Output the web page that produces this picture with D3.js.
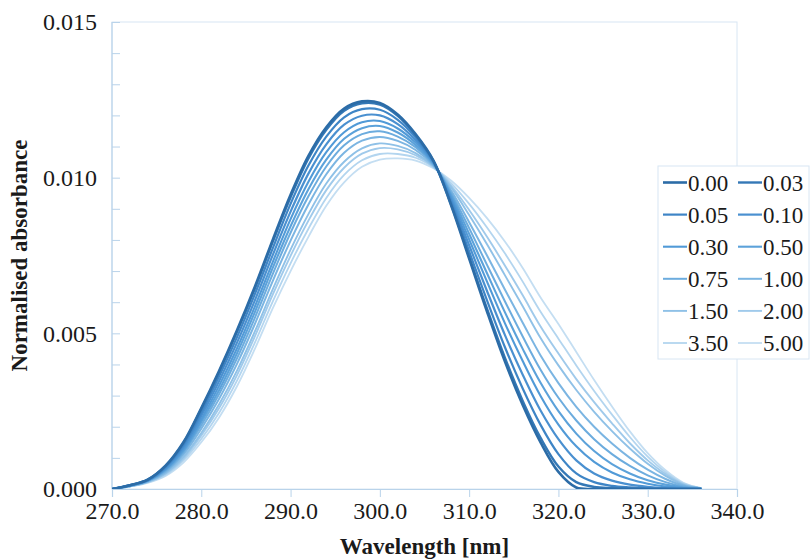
<!DOCTYPE html>
<html><head><meta charset="utf-8">
<script src="https://cdn.jsdelivr.net/npm/d3@7/dist/d3.min.js"></script>
<style>body{margin:0;background:#fff}svg{display:block}
text{font-family:"Liberation Serif","Tinos","Times New Roman",Times,"DejaVu Serif","Noto Serif",serif}</style>
</head><body>
<svg id="c" width="810" height="560"></svg>
<script>
const wavelengths = [270,272,274,276,278,280,282,284,286,288,290,292,294,296,298,300,302,304,306,308,310,312,314,316,318,320,322,324,326,328,330,332,334,336];
const concentrations = ["0.00","0.03","0.05","0.10","0.30","0.50","0.75","1.00","1.50","2.00","3.50","5.00"];
// absorbance values in units of 0.001
const s000 = [0,0.12,0.30,0.75,1.50,2.60,3.80,5.10,6.50,8.00,9.45,10.70,11.62,12.22,12.45,12.40,12.03,11.40,10.55,9.10,7.40,5.70,4.10,2.70,1.50,0.55,0.05,0,0,0,0,0,0,0];
const s003 = [0,0.12,0.30,0.74,1.48,2.57,3.76,5.05,6.44,7.94,9.37,10.62,11.54,12.15,12.39,12.35,11.99,11.37,10.54,9.12,7.46,5.79,4.22,2.83,1.64,0.72,0.22,0.07,0.03,0.01,0,0,0,0];
const s005 = [0,0.12,0.29,0.71,1.42,2.46,3.62,4.88,6.26,7.73,9.16,10.39,11.32,11.94,12.20,12.18,11.86,11.30,10.52,9.20,7.63,6.06,4.56,3.23,2.06,1.12,0.50,0.22,0.10,0.05,0.02,0.01,0,0];
const s010 = [0,0.11,0.27,0.68,1.35,2.35,3.47,4.70,6.06,7.51,8.91,10.13,11.07,11.70,11.99,12.00,11.72,11.21,10.50,9.28,7.83,6.36,4.95,3.67,2.52,1.60,0.92,0.50,0.27,0.14,0.07,0.03,0.01,0];
const s030 = [0,0.11,0.27,0.64,1.29,2.24,3.32,4.52,5.86,7.29,8.67,9.87,10.82,11.46,11.78,11.82,11.58,11.13,10.47,9.36,8.02,6.66,5.33,4.11,2.99,2.07,1.37,0.87,0.53,0.31,0.17,0.08,0.03,0.01];
const s050 = [0,0.11,0.26,0.62,1.23,2.15,3.18,4.36,5.68,7.10,8.44,9.63,10.58,11.25,11.59,11.66,11.45,11.05,10.45,9.43,8.20,6.93,5.68,4.50,3.41,2.50,1.78,1.22,0.80,0.50,0.28,0.14,0.05,0.01];
const s075 = [0,0.11,0.26,0.59,1.18,2.05,3.05,4.20,5.50,6.90,8.23,9.40,10.36,11.04,11.40,11.49,11.32,10.98,10.43,9.50,8.38,7.20,6.03,4.90,3.83,2.93,2.20,1.60,1.12,0.74,0.44,0.22,0.08,0.02];
const s100 = [0,0.09,0.24,0.55,1.11,1.94,2.90,4.02,5.30,6.68,7.98,9.14,10.11,10.80,11.19,11.31,11.18,10.89,10.40,9.58,8.57,7.50,6.41,5.34,4.29,3.40,2.64,2.00,1.46,1.00,0.62,0.32,0.11,0.02];
const s150 = [0,0.09,0.23,0.51,1.03,1.80,2.72,3.80,5.06,6.41,7.69,8.83,9.81,10.51,10.94,11.10,11.02,10.79,10.37,9.68,8.80,7.86,6.87,5.87,4.85,3.97,3.18,2.48,1.86,1.30,0.81,0.42,0.14,0.02];
const s200 = [0,0.09,0.22,0.49,0.98,1.72,2.60,3.66,4.90,6.24,7.49,8.62,9.60,10.32,10.77,10.95,10.91,10.72,10.35,9.74,8.96,8.10,7.18,6.22,5.22,4.35,3.53,2.79,2.11,1.47,0.92,0.48,0.16,0.02];
const s350 = [0,0.08,0.21,0.45,0.92,1.61,2.45,3.48,4.70,6.02,7.25,8.36,9.35,10.09,10.56,10.76,10.76,10.64,10.33,9.82,9.16,8.40,7.57,6.66,5.69,4.83,3.97,3.15,2.39,1.67,1.04,0.54,0.18,0.03];
const s500 = [0,0.08,0.20,0.42,0.85,1.50,2.30,3.30,4.50,5.80,7.00,8.10,9.10,9.85,10.35,10.58,10.62,10.55,10.30,9.90,9.35,8.70,7.95,7.10,6.15,5.30,4.40,3.50,2.65,1.85,1.15,0.60,0.20,0.03];
const seriesValues = [s000,s003,s005,s010,s030,s050,s075,s100,s150,s200,s350,s500];
const colors = ["#2c6ca7","#3478b6","#3e85c6","#4a90d0","#519ad7","#5ca2da","#6cacde","#7bb5e2","#8fc1e7","#a0caeb","#b3d5ef","#c4def2"];
const widths = [2.6,2.4,2.2,2.2,2.1,2.1,2.0,2.0,1.9,1.9,1.8,1.8];
const xTicks = [270,280,290,300,310,320,330,340];
const yTicks = [0,0.005,0.010,0.015];

const svg = d3.select("#c");
const L=112,R=737,T=22,B=489;
const x = d3.scaleLinear().domain([270,340]).range([L,R]);
const y = d3.scaleLinear().domain([0,0.015]).range([B,T]);
const axisCol="#b9d3ea";
const txtCol="#1a1a1a";

svg.append("defs").append("clipPath").attr("id","clip")
  .append("rect").attr("x",L).attr("y",T-10).attr("width",R-L).attr("height",B-T+10);

// frame
svg.append("rect").attr("x",L).attr("y",T).attr("width",R-L).attr("height",B-T)
  .attr("fill","none").attr("stroke","#d8e6f3").attr("stroke-width",1);

// y axis with minor ticks inside
const ya = svg.append("g").attr("transform",`translate(${L},0)`)
  .call(d3.axisRight(y).tickValues(d3.range(0,0.0151,0.001)).tickSize(8).tickFormat(""));
ya.selectAll("line").attr("stroke",axisCol);
ya.select(".domain").remove();
svg.append("line").attr("x1",L).attr("x2",L).attr("y1",T).attr("y2",B).attr("stroke",axisCol).attr("stroke-width",1.2);
const yl = svg.append("g").attr("transform",`translate(${L-12},0)`)
  .call(d3.axisLeft(y).tickValues(yTicks).tickSize(0).tickFormat(d3.format(".3f")));
yl.select(".domain").remove();
yl.attr("font-family",null);
yl.selectAll("text").attr("font-size",24).attr("fill",txtCol).attr("dy","0.32em");

// x axis
const xa = svg.append("g").attr("transform",`translate(0,${B})`)
  .call(d3.axisBottom(x).tickValues(xTicks).tickSize(8).tickPadding(5).tickFormat(d3.format(".1f")));
xa.attr("font-family",null);
xa.selectAll("line").attr("stroke",axisCol);
xa.select(".domain").attr("stroke",axisCol).attr("stroke-width",1.2);
xa.selectAll("text").attr("font-size",24).attr("fill",txtCol);

// titles
svg.append("text").attr("x",(L+R)/2).attr("y",554).attr("text-anchor","middle")
  .attr("font-weight","bold").attr("font-size",23).attr("fill",txtCol)
  .text("Wavelength [nm]");
svg.append("text").attr("transform",`translate(27,${(T+B)/2}) rotate(-90)`).attr("text-anchor","middle")
  .attr("font-weight","bold").attr("font-size",23).attr("fill",txtCol)
  .text("Normalised absorbance");

// lines (lightest first so darkest is on top)
const line = d3.line().x((d,i)=>x(wavelengths[i])).y(d=>y(d/1000)).curve(d3.curveCatmullRom.alpha(0.5));
const order = d3.range(seriesValues.length).reverse();
svg.append("g").attr("clip-path","url(#clip)").selectAll("path").data(order).join("path")
  .attr("d",i=>line(seriesValues[i])).attr("fill","none")
  .attr("stroke",i=>colors[i]).attr("stroke-width",i=>widths[i]).attr("stroke-linejoin","round");

// legend
const lg = svg.append("g").attr("transform","translate(658,166)");
lg.append("rect").attr("x",0).attr("y",0).attr("width",151).attr("height",193)
  .attr("fill","#fff").attr("stroke","#d8e6f3");
concentrations.forEach((c,i)=>{
  const col=i%2,row=Math.floor(i/2);
  const gx=5+col*75, gy=16.5+row*32.1;
  lg.append("line").attr("x1",gx).attr("x2",gx+24).attr("y1",gy).attr("y2",gy)
    .attr("stroke",colors[i]).attr("stroke-width",widths[i]);
  lg.append("text").attr("x",gx+25).attr("y",gy).attr("dy","0.35em")
    .attr("font-size",23).attr("fill",txtCol).text(c);
});
</script>
</body></html>
